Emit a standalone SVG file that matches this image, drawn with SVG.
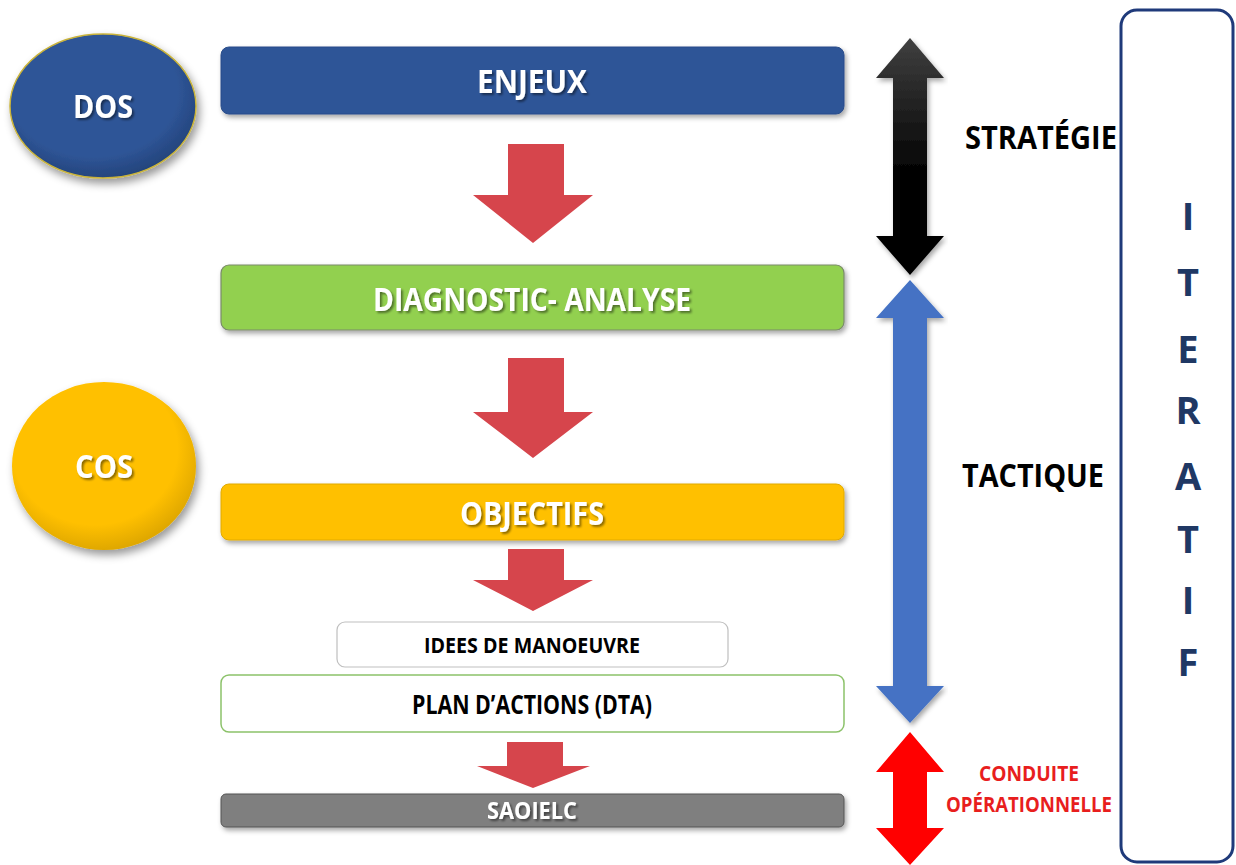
<svg xmlns="http://www.w3.org/2000/svg" width="1236" height="865" viewBox="0 0 1236 865">
<style>
text{font-family:"Liberation Sans Narrow","Open Sans","Liberation Sans",sans-serif;font-weight:bold;text-anchor:middle}
.wt{fill:#fff;filter:url(#ts)}
.bk{fill:#000}
.box{filter:url(#bs)}
.red{fill:#D6454C}
.it{fill:#1F3864;font-size:38px}
</style>
<defs>
<filter id="ts" x="-10%" y="-30%" width="120%" height="160%"><feDropShadow dx="2" dy="2" stdDeviation="1.2" flood-color="#000" flood-opacity="0.45"/></filter>
<filter id="bs" x="-5%" y="-20%" width="110%" height="150%"><feDropShadow dx="2" dy="3" stdDeviation="2.5" flood-color="#000" flood-opacity="0.35"/></filter>
<filter id="es" x="-10%" y="-10%" width="125%" height="130%"><feDropShadow dx="3" dy="5" stdDeviation="4" flood-color="#000" flood-opacity="0.4"/></filter>
<linearGradient id="blk" x1="0" y1="0" x2="0" y2="1"><stop offset="0" stop-color="#404040"/><stop offset="0.55" stop-color="#050505"/><stop offset="1" stop-color="#000"/></linearGradient>
<radialGradient id="dosg" cx="0.45" cy="0.4" r="0.6"><stop offset="0.75" stop-color="#2F5597"/><stop offset="1" stop-color="#24457d"/></radialGradient>
<radialGradient id="cosg" cx="0.45" cy="0.4" r="0.6"><stop offset="0.75" stop-color="#FFC000"/><stop offset="1" stop-color="#e0a800"/></radialGradient>
</defs>

<g id="dos"><ellipse cx="103" cy="106" rx="93" ry="72" fill="url(#dosg)" stroke="#C9B33A" stroke-width="1.5" filter="url(#es)"/><text class="wt" x="103" y="118" font-size="33" textLength="60" lengthAdjust="spacingAndGlyphs">DOS</text></g>
<g id="cos"><ellipse cx="104" cy="466" rx="92" ry="84" fill="url(#cosg)" filter="url(#es)"/><text class="wt" x="104" y="478" font-size="33" textLength="58" lengthAdjust="spacingAndGlyphs">COS</text></g>

<g id="enjeux"><rect class="box" x="221" y="47" width="623" height="67" rx="8" fill="#2F5597" stroke="#2a4d8a"/><text class="wt" x="532" y="93" font-size="32" textLength="110" lengthAdjust="spacingAndGlyphs">ENJEUX</text></g>
<g id="diagnostic"><rect class="box" x="221" y="265" width="623" height="65" rx="8" fill="#92D050" stroke="#7a8a6a" stroke-width="1.2"/><text class="wt" x="532" y="311" font-size="32" textLength="318" lengthAdjust="spacingAndGlyphs">DIAGNOSTIC- ANALYSE</text></g>
<g id="objectifs"><rect class="box" x="221" y="484" width="623" height="56" rx="8" fill="#FFC000" stroke="#e0aa00"/><text class="wt" x="532" y="525" font-size="32" textLength="144" lengthAdjust="spacingAndGlyphs">OBJECTIFS</text></g>
<g id="idees"><rect x="337" y="622" width="391" height="45" rx="8" fill="#fff" stroke="#bfbfbf" stroke-width="1.2"/><text class="bk" x="532" y="653" font-size="21" textLength="216" lengthAdjust="spacingAndGlyphs">IDEES DE MANOEUVRE</text></g>
<g id="plan"><rect x="221" y="675" width="623" height="57" rx="8" fill="#fff" stroke="#8cc26a" stroke-width="1.5"/><text class="bk" x="532" y="714" font-size="26" textLength="240" lengthAdjust="spacingAndGlyphs">PLAN D’ACTIONS (DTA)</text></g>
<g id="saoielc"><rect class="box" x="221" y="794" width="623" height="33" rx="5" fill="#7F7F7F" stroke="#555" stroke-width="1"/><text class="wt" x="532" y="819" font-size="23" textLength="90" lengthAdjust="spacingAndGlyphs">SAOIELC</text></g>

<g id="connectors">
<polygon class="red" points="508,144 564,144 564,195 593,195 533,243 473,195 508,195"/>
<polygon class="red" points="508,358 564,358 564,412 593,412 533,458 473,412 508,412"/>
<polygon class="red" points="508,549 564,549 564,580 593,580 533,611 473,580 508,580"/>
<polygon class="red" points="507,742 563,742 563,766 590,766 533,788 477,766 507,766"/>
</g>

<g id="strategie-arrow"><polygon points="910,38 944,78 927,78 927,236 944,236 910,275 876,236 893,236 893,78 876,78" fill="url(#blk)" filter="url(#bs)"/></g>
<g id="tactique-arrow"><polygon points="910,280 944,318 927,318 927,686 944,686 910,723 876,686 893,686 893,318 876,318" fill="#4472C4" filter="url(#bs)"/></g>
<g id="conduite-arrow"><polygon points="910,732 944,772 927,772 927,828 944,828 910,865 876,828 893,828 893,772 876,772" fill="#FF0000"/></g>

<g id="labels">
<text class="bk" x="1041" y="149" font-size="32" textLength="152" lengthAdjust="spacingAndGlyphs">STRATÉGIE</text>
<text class="bk" x="1033" y="487" font-size="32" textLength="142" lengthAdjust="spacingAndGlyphs">TACTIQUE</text>
<text x="1029" y="781" font-size="21" fill="#E81E1E" textLength="100" lengthAdjust="spacingAndGlyphs">CONDUITE</text>
<text x="1029" y="812" font-size="21" fill="#E81E1E" textLength="166" lengthAdjust="spacingAndGlyphs">OPÉRATIONNELLE</text>
</g>

<g id="iteratif">
<rect x="1121" y="10" width="112" height="852" rx="16" fill="#fff" stroke="#1F3A7A" stroke-width="3"/>
<text class="it" x="1188" y="230">I</text>
<text class="it" x="1188" y="296">T</text>
<text class="it" x="1188" y="363">E</text>
<text class="it" x="1188" y="424">R</text>
<text class="it" x="1188" y="490">A</text>
<text class="it" x="1188" y="553">T</text>
<text class="it" x="1188" y="614">I</text>
<text class="it" x="1188" y="676">F</text>
</g>
</svg>
